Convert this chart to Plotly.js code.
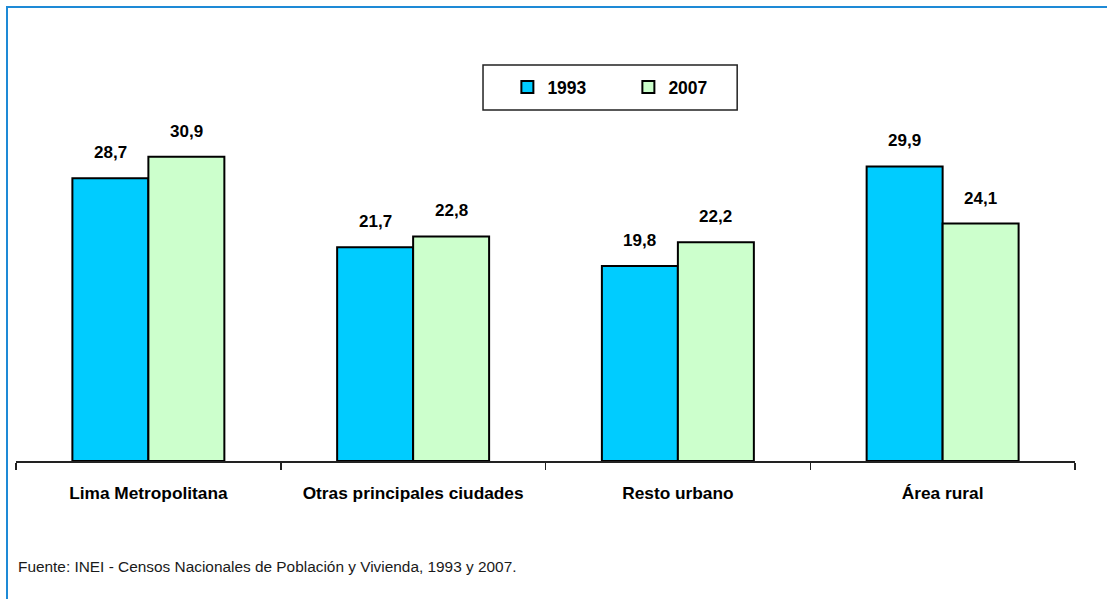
<!DOCTYPE html>
<html>
<head>
<meta charset="utf-8">
<script src="https://cdn.plot.ly/plotly-3.0.1.min.js"></script>
<style>
  html, body { margin: 0; padding: 0; background: #fff; }
  #wrap { position: relative; width: 1107px; height: 599px; overflow: hidden; }
  #chart { position: absolute; left: 0; top: 0; width: 1107px; height: 599px; }
  #frame { position: absolute; left: 6px; top: 6px; width: 1200px; height: 700px;
           border-left: 2px solid #1E8AD6; border-top: 2px solid #1E8AD6; pointer-events: none; }
</style>
</head>
<body>
<div id="wrap"><div id="chart"></div><div id="frame"></div></div>
<script>
const categories = ["Lima Metropolitana", "Otras principales ciudades", "Resto urbano", "Área rural"];
const values1993 = [28.7, 21.7, 19.8, 29.9];
const values2007 = [30.9, 22.8, 22.2, 24.1];
const seriesNames = ["1993", "2007"];
const sourceNote = "Fuente: INEI - Censos Nacionales de Población y Vivienda, 1993 y 2007.";

const FONT = '"Liberation Sans", Arial, sans-serif';
const fmt = v => v.toFixed(1).replace('.', ',');

const traces = [
  { type: 'bar', name: seriesNames[0], x: categories, y: values1993,
    marker: { color: '#00CCFF', line: { color: '#000000', width: 2 } }, hoverinfo: 'none' },
  { type: 'bar', name: seriesNames[1], x: categories, y: values2007,
    marker: { color: '#CCFFCC', line: { color: '#000000', width: 2 } }, hoverinfo: 'none' }
];

const annotations = [];
[values1993, values2007].forEach((vals, si) => {
  vals.forEach((v, i) => {
    annotations.push({
      x: categories[i], y: v, xref: 'x', yref: 'y',
      xshift: si === 0 ? -38 : 38, yshift: 14,
      yanchor: 'bottom', showarrow: false,
      text: '<b>' + fmt(v) + '</b>',
      font: { family: FONT, size: 17, color: '#000' }
    });
  });
});
annotations.push({
  xref: 'paper', yref: 'paper', x: 0, y: -0.269, xanchor: 'left', yanchor: 'middle',
  showarrow: false, text: sourceNote,
  font: { family: FONT, size: 15.4, color: '#1a1a1a' }
});

const layout = {
  width: 1107, height: 599,
  margin: { l: 16, r: 32, t: 67, b: 138 },
  paper_bgcolor: '#ffffff', plot_bgcolor: '#ffffff',
  barmode: 'group', bargap: 0.426, bargroupgap: 0,
  font: { family: FONT, color: '#000' },
  showlegend: true,
  legend: {
    orientation: 'h', x: 0.464, y: 0.949, xanchor: 'left', yanchor: 'middle',
    bgcolor: 'rgba(0,0,0,0)', borderwidth: 0,
    entrywidth: 76, entrywidthmode: 'pixels',
    font: { family: FONT, size: 17.5, color: '#000', weight: 'bold' }
  },
  xaxis: {
    type: 'category', showline: true, linecolor: '#222', linewidth: 1.5,
    ticks: 'outside', tickson: 'boundaries', ticklen: 7, tickcolor: '#222', tickwidth: 1.5,
    tickangle: 0, ticklabelstandoff: 16,
    tickfont: { family: FONT, size: 17.3, color: '#000', weight: 'bold' },
    showgrid: false, zeroline: false, fixedrange: true, automargin: false
  },
  yaxis: {
    range: [0, 40], visible: false, showgrid: false, zeroline: false, fixedrange: true
  },
  shapes: [{
    type: 'rect', xref: 'paper', yref: 'paper',
    x0: 0.441, x1: 0.681, y0: 0.891, y1: 1.005,
    line: { color: '#222', width: 1.5 }, fillcolor: 'rgba(0,0,0,0)', layer: 'above'
  }],
  annotations: annotations
};

Plotly.newPlot('chart', traces, layout, { displayModeBar: false, staticPlot: true });
</script>
</body>
</html>
